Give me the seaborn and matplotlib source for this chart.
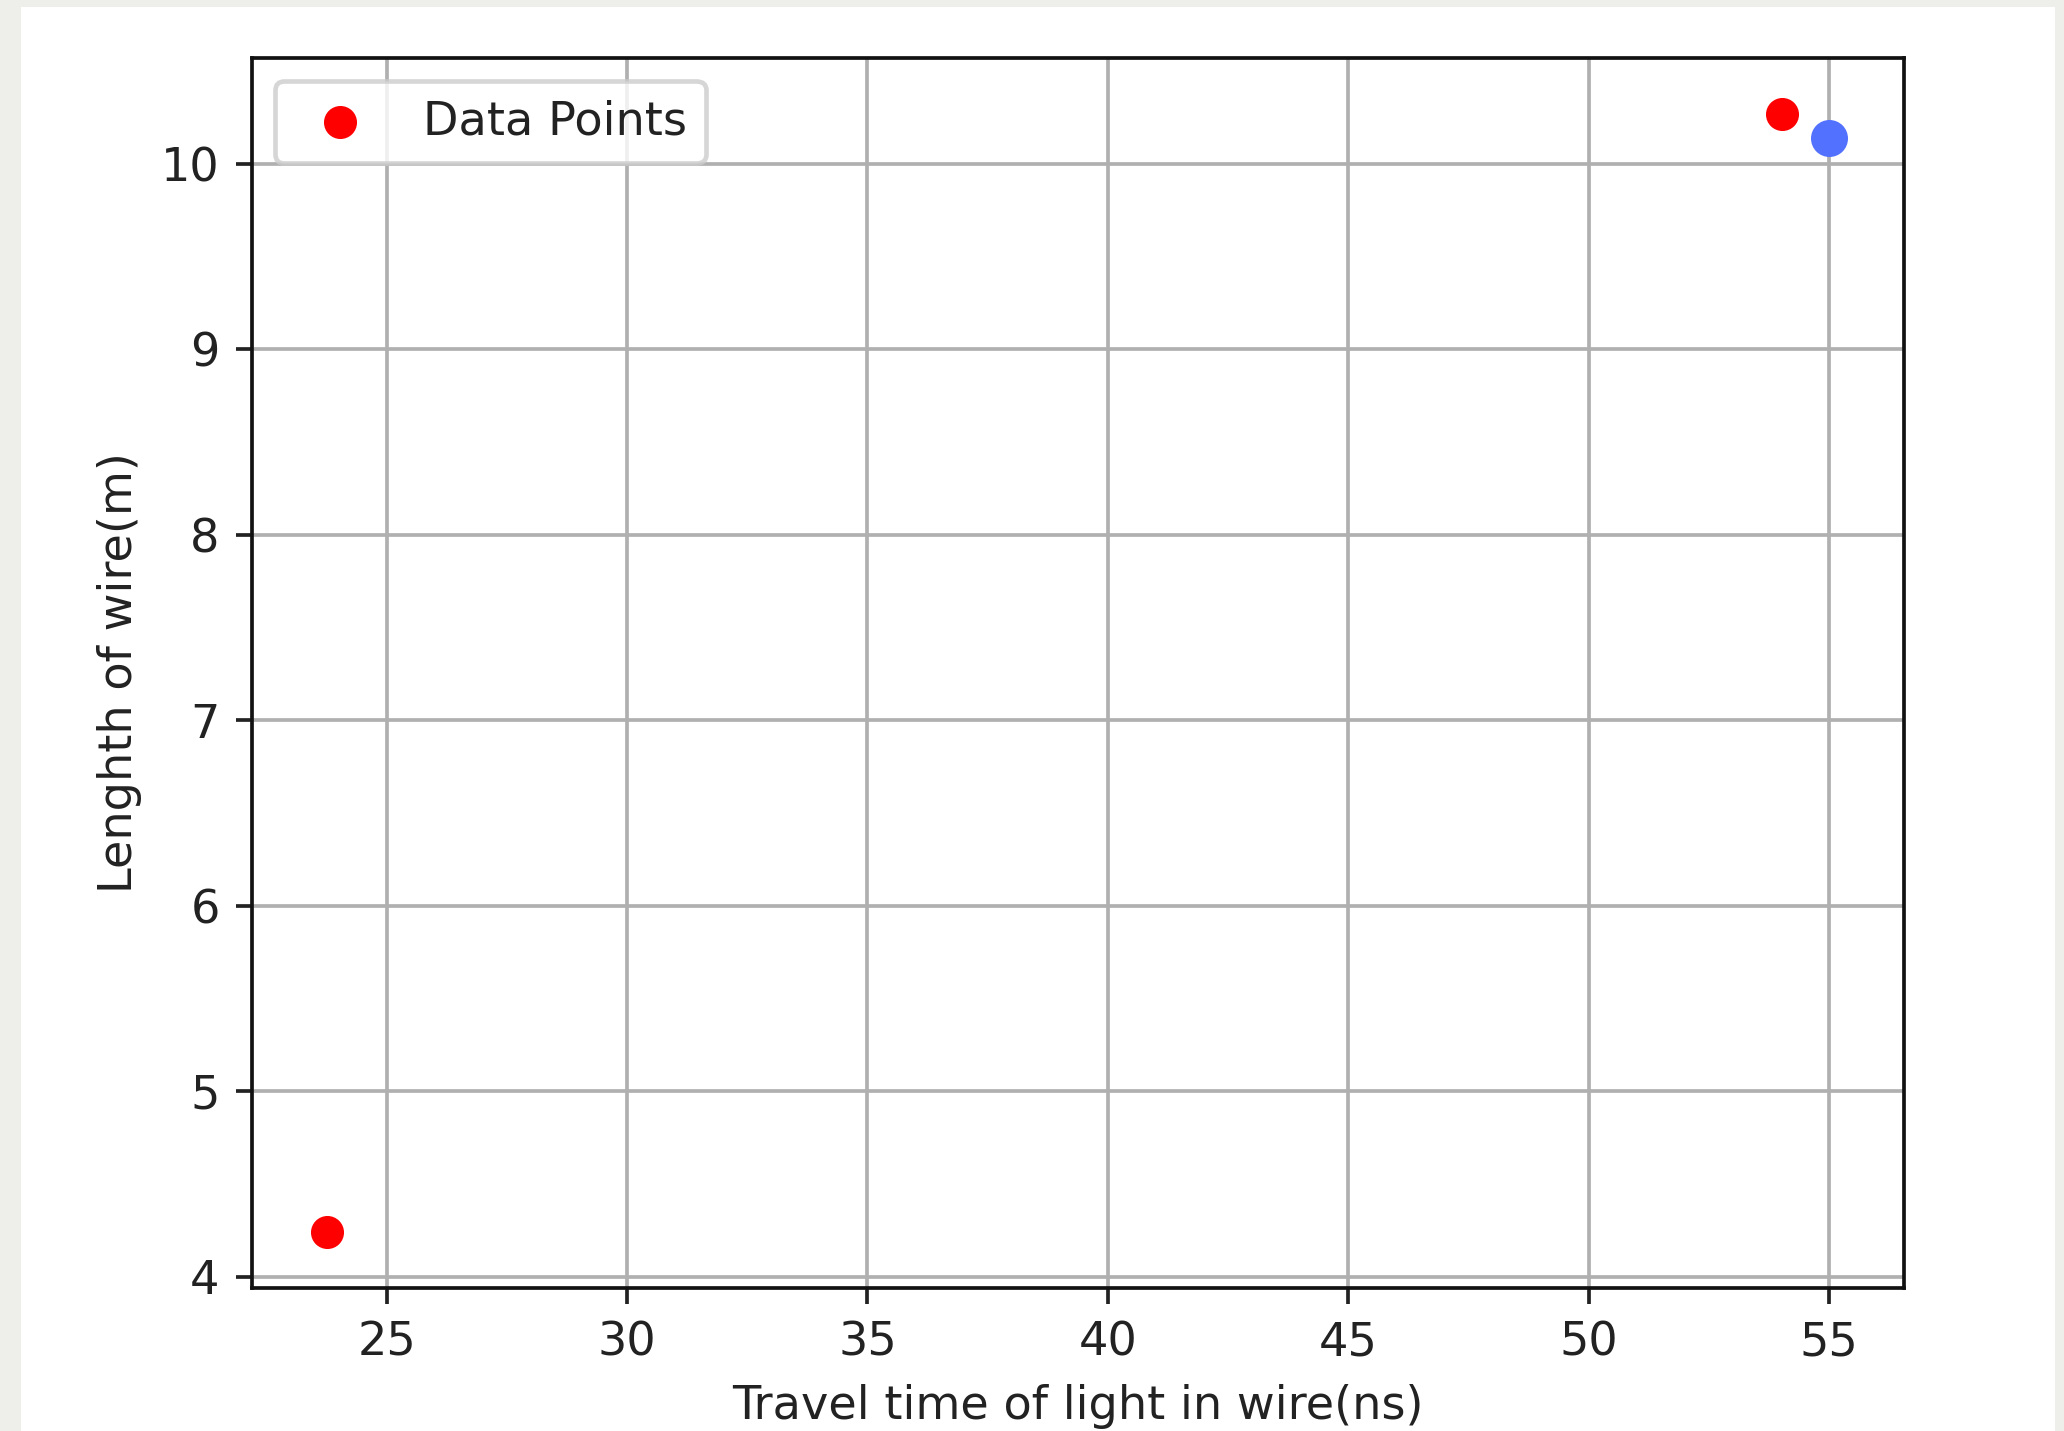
import matplotlib

matplotlib.use('Agg')
import matplotlib.pyplot as plt
import matplotlib.patches as mpatches
import seaborn as sns

# data
travel_time_ns = [23.76, 54.03]
wire_length_m = [4.24, 10.27]
extra_time_ns = [55.0]
extra_length_m = [10.14]

k = 3.33  # screenshot is an upscaled default-size matplotlib figure
plt.rcParams.update({
    'font.family': ['DejaVu Sans'],
    'font.size': 10 * k,
    'axes.linewidth': 0.8 * k,
    'xtick.major.size': 3.5 * k,
    'ytick.major.size': 3.5 * k,
    'xtick.major.width': 0.8 * k,
    'ytick.major.width': 0.8 * k,
    'xtick.major.pad': 3.5 * k,
    'ytick.major.pad': 3.5 * k,
    'axes.labelpad': 4 * k,
    'grid.linewidth': 0.8 * k,
    'grid.color': '#b0b0b0',
    'patch.linewidth': 1.0 * k,
    'axes.edgecolor': '#111111',
    'text.color': '#222222',
    'xtick.color': '#222222',
    'ytick.color': '#222222',
    'axes.labelcolor': '#222222',
})

fig = plt.figure(figsize=(20.64, 14.31), dpi=100, facecolor='#eeeeea')
# white page of the screenshot, kept behind the axes
fig.patches.append(mpatches.Rectangle((21 / 2064, 0), (2055 - 21) / 2064, (1431 - 7) / 1431,
                                      transform=fig.transFigure, facecolor='white',
                                      edgecolor='none', zorder=-10))

ax = fig.add_axes([252 / 2064, 143 / 1431, 1652 / 2064, 1230 / 1431])
ax.set_facecolor('white')

sns.scatterplot(x=travel_time_ns, y=wire_length_m, color='red', s=566, linewidth=0,
                label='Data Points', ax=ax, zorder=3)
sns.scatterplot(x=extra_time_ns, y=extra_length_m, color='#5271ff', s=710, linewidth=0,
                legend=False, ax=ax, zorder=3)

ax.grid(True)
ax.set_axisbelow(True)
ax.set_xlabel('Travel time of light in wire(ns)')
ax.set_ylabel('Lenghth of wire(m)')
ax.legend(loc='upper left')

plt.savefig('out.png', dpi=100, facecolor=fig.get_facecolor())
plt.close()
